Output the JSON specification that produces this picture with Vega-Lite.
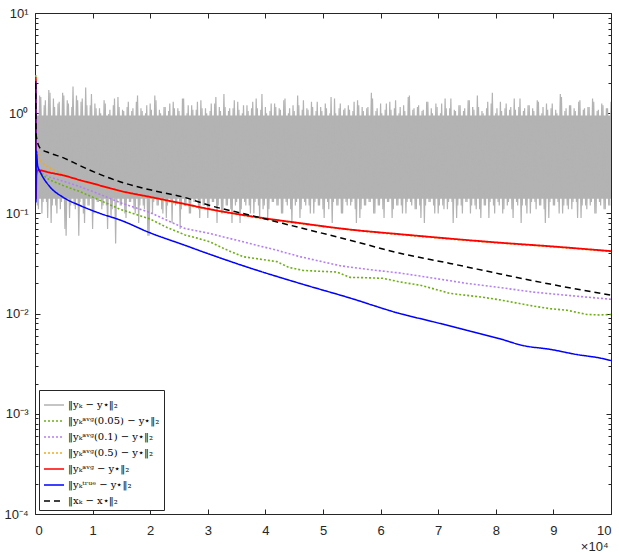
{
  "$schema": "https://vega.github.io/schema/vega-lite/v6.json",
  "width": 576,
  "height": 501,
  "autosize": "none",
  "padding": {"left": 35, "top": 13, "right": 8, "bottom": 39},
  "background": "white",
  "config": {
    "view": {"stroke": null},
    "axis": {"grid": false, "labelFont": "Liberation Sans", "labelFontSize": 13, "labelColor": "#262626", "domainColor": "#262626", "tickColor": "#262626", "domainWidth": 1, "tickWidth": 1, "titleFont": "Liberation Sans", "titleFontWeight": "normal", "titleColor": "#262626", "titleFontSize": 13},
    "legend": {"orient": "bottom-left", "offset": 4, "strokeColor": "#262626", "fillColor": "white", "padding": 4, "symbolType": "stroke", "symbolSize": 400, "symbolStrokeWidth": 1.6, "labelFont": "DejaVu Serif", "labelFontSize": 10, "labelColor": "#000000", "rowPadding": -4, "labelOffset": 3, "cornerRadius": 0}
  },
  "datasets": {
    "band": [{"x": 0, "lo": 0.14, "hi": 0.95}, {"x": 100000, "lo": 0.14, "hi": 0.95}],
    "noise": [
      {"x":0,"y":1.3},{"x":400,"y":0.12},{"x":800,"y":1.5},{"x":1200,"y":0.1},{"x":1600,"y":1.2},{"x":2000,"y":0.13},{"x":2400,"y":1.7},{"x":2800,"y":0.08},{"x":3200,"y":1.4},{"x":3600,"y":0.12},
      {"x":4000,"y":1.25},{"x":4400,"y":0.11},{"x":4800,"y":1.6},{"x":5200,"y":0.07},{"x":5600,"y":1.35},{"x":6000,"y":0.09},{"x":6400,"y":1.15},{"x":6800,"y":0.12},{"x":7200,"y":1.5},{"x":7600,"y":0.06},
      {"x":8000,"y":1.3},{"x":8400,"y":0.1},{"x":8800,"y":1.8},{"x":9200,"y":0.12},{"x":9600,"y":1.2},{"x":10000,"y":0.07},{"x":10400,"y":1.25},{"x":10800,"y":0.13},{"x":11200,"y":1.12},{"x":11600,"y":0.11},
      {"x":12000,"y":1.35},{"x":12400,"y":0.12},{"x":12800,"y":0.98},{"x":13200,"y":0.09},{"x":13600,"y":1.2},{"x":14000,"y":0.05},{"x":14400,"y":1.45},{"x":14800,"y":0.12},{"x":15200,"y":1.08},{"x":15600,"y":0.1},
      {"x":16000,"y":1.15},{"x":16400,"y":0.13},{"x":16800,"y":1.05},{"x":17200,"y":0.11},{"x":17600,"y":1.3},{"x":18000,"y":0.08},{"x":18400,"y":1.12},{"x":18800,"y":0.12},{"x":19200,"y":1.0},{"x":19600,"y":0.06},
      {"x":20000,"y":1.25},{"x":20400,"y":0.1},{"x":20800,"y":1.5},{"x":21200,"y":0.12},{"x":21600,"y":1.08},{"x":22000,"y":0.11},{"x":22400,"y":1.15},{"x":22800,"y":0.09},{"x":23200,"y":1.05},{"x":23600,"y":0.13},
      {"x":24000,"y":1.3},{"x":24400,"y":0.12},{"x":24800,"y":1.12},{"x":25200,"y":0.07},{"x":25600,"y":1.4},{"x":26000,"y":0.12},{"x":26400,"y":1.0},{"x":26800,"y":0.1},{"x":27200,"y":1.2},{"x":27600,"y":0.13},
      {"x":28000,"y":1.08},{"x":28400,"y":0.11},{"x":28800,"y":1.35},{"x":29200,"y":0.12},{"x":29600,"y":1.12},{"x":30000,"y":0.09},{"x":30400,"y":1.05},{"x":30800,"y":0.13},{"x":31200,"y":1.25},{"x":31600,"y":0.08},
      {"x":32000,"y":1.15},{"x":32400,"y":0.1},{"x":32800,"y":1.55},{"x":33200,"y":0.12},{"x":33600,"y":1.05},{"x":34000,"y":0.11},{"x":34400,"y":1.12},{"x":34800,"y":0.12},{"x":35200,"y":1.3},{"x":35600,"y":0.08},
      {"x":36000,"y":1.0},{"x":36400,"y":0.13},{"x":36800,"y":1.2},{"x":37200,"y":0.12},{"x":37600,"y":1.12},{"x":38000,"y":0.1},{"x":38400,"y":1.4},{"x":38800,"y":0.12},{"x":39200,"y":1.08},{"x":39600,"y":0.11},
      {"x":40000,"y":1.15},{"x":40400,"y":0.09},{"x":40800,"y":1.05},{"x":41200,"y":0.13},{"x":41600,"y":1.25},{"x":42000,"y":0.12},{"x":42400,"y":1.12},{"x":42800,"y":0.1},{"x":43200,"y":1.35},{"x":43600,"y":0.13},
      {"x":44000,"y":1.0},{"x":44400,"y":0.11},{"x":44800,"y":1.2},{"x":45200,"y":0.12},{"x":45600,"y":1.5},{"x":46000,"y":0.09},{"x":46400,"y":1.08},{"x":46800,"y":0.13},{"x":47200,"y":1.12},{"x":47600,"y":0.12},
      {"x":48000,"y":1.3},{"x":48400,"y":0.1},{"x":48800,"y":1.05},{"x":49200,"y":0.12},{"x":49600,"y":1.15},{"x":50000,"y":0.11},{"x":50400,"y":1.25},{"x":50800,"y":0.13},{"x":51200,"y":1.0},{"x":51600,"y":0.08},
      {"x":52000,"y":1.4},{"x":52400,"y":0.12},{"x":52800,"y":1.12},{"x":53200,"y":0.1},{"x":53600,"y":1.08},{"x":54000,"y":0.13},{"x":54400,"y":1.2},{"x":54800,"y":0.12},{"x":55200,"y":1.05},{"x":55600,"y":0.11},
      {"x":56000,"y":1.35},{"x":56400,"y":0.09},{"x":56800,"y":1.15},{"x":57200,"y":0.12},{"x":57600,"y":1.12},{"x":58000,"y":0.13},{"x":58400,"y":1.6},{"x":58800,"y":0.1},{"x":59200,"y":1.05},{"x":59600,"y":0.12},
      {"x":60000,"y":1.25},{"x":60400,"y":0.11},{"x":60800,"y":1.08},{"x":61200,"y":0.13},{"x":61600,"y":1.3},{"x":62000,"y":0.09},{"x":62400,"y":1.12},{"x":62800,"y":0.12},{"x":63200,"y":1.0},{"x":63600,"y":0.12},
      {"x":64000,"y":1.2},{"x":64400,"y":0.1},{"x":64800,"y":1.45},{"x":65200,"y":0.13},{"x":65600,"y":1.08},{"x":66000,"y":0.11},{"x":66400,"y":1.15},{"x":66800,"y":0.12},{"x":67200,"y":1.05},{"x":67600,"y":0.08},
      {"x":68000,"y":1.3},{"x":68400,"y":0.13},{"x":68800,"y":1.12},{"x":69200,"y":0.12},{"x":69600,"y":1.25},{"x":70000,"y":0.1},{"x":70400,"y":1.0},{"x":70800,"y":0.12},{"x":71200,"y":1.4},{"x":71600,"y":0.11},
      {"x":72000,"y":1.12},{"x":72400,"y":0.13},{"x":72800,"y":1.08},{"x":73200,"y":0.09},{"x":73600,"y":1.2},{"x":74000,"y":0.12},{"x":74400,"y":1.05},{"x":74800,"y":0.13},{"x":75200,"y":1.35},{"x":75600,"y":0.1},
      {"x":76000,"y":1.15},{"x":76400,"y":0.12},{"x":76800,"y":1.5},{"x":77200,"y":0.11},{"x":77600,"y":1.05},{"x":78000,"y":0.12},{"x":78400,"y":1.12},{"x":78800,"y":0.09},{"x":79200,"y":1.25},{"x":79600,"y":0.12},
      {"x":80000,"y":1.0},{"x":80400,"y":0.13},{"x":80800,"y":1.3},{"x":81200,"y":0.1},{"x":81600,"y":1.12},{"x":82000,"y":0.12},{"x":82400,"y":1.08},{"x":82800,"y":0.11},{"x":83200,"y":1.4},{"x":83600,"y":0.13},
      {"x":84000,"y":1.15},{"x":84400,"y":0.08},{"x":84800,"y":1.05},{"x":85200,"y":0.12},{"x":85600,"y":1.2},{"x":86000,"y":0.1},{"x":86400,"y":1.12},{"x":86800,"y":0.13},{"x":87200,"y":1.35},{"x":87600,"y":0.12},
      {"x":88000,"y":1.0},{"x":88400,"y":0.11},{"x":88800,"y":1.25},{"x":89200,"y":0.09},{"x":89600,"y":1.12},{"x":90000,"y":0.12},{"x":90400,"y":1.08},{"x":90800,"y":0.13},{"x":91200,"y":1.55},{"x":91600,"y":0.1},
      {"x":92000,"y":1.05},{"x":92400,"y":0.12},{"x":92800,"y":1.2},{"x":93200,"y":0.11},{"x":93600,"y":1.12},{"x":94000,"y":0.13},{"x":94400,"y":1.3},{"x":94800,"y":0.09},{"x":95200,"y":1.08},{"x":95600,"y":0.12},
      {"x":96000,"y":1.15},{"x":96400,"y":0.12},{"x":96800,"y":1.4},{"x":97200,"y":0.1},{"x":97600,"y":1.05},{"x":98000,"y":0.13},{"x":98400,"y":1.25},{"x":98800,"y":0.11},{"x":99200,"y":1.12},{"x":99600,"y":0.12},
      {"x":100000,"y":1.3}
    ],
    "noise2": [
      {"x":200,"y":1.2},{"x":600,"y":0.11},{"x":1000,"y":1.45},{"x":1400,"y":0.13},{"x":1800,"y":1.35},{"x":2200,"y":0.09},{"x":2600,"y":1.6},{"x":3000,"y":0.12},{"x":3400,"y":1.15},{"x":3800,"y":0.1},{"x":4200,"y":1.3},{"x":4600,"y":0.13},{"x":5000,"y":1.5},{"x":5400,"y":0.06},{"x":5800,"y":1.25},{"x":6200,"y":0.12},{"x":6600,"y":1.85},{"x":7000,"y":0.11},{"x":7400,"y":1.35},{"x":7800,"y":0.13},
      {"x":8200,"y":1.4},{"x":8600,"y":0.08},{"x":9000,"y":1.2},{"x":9400,"y":0.12},{"x":9800,"y":1.55},{"x":10200,"y":0.1},{"x":10600,"y":1.12},{"x":11000,"y":0.13},{"x":11400,"y":1.0},{"x":11800,"y":0.12},{"x":12200,"y":1.25},{"x":12600,"y":0.07},{"x":13000,"y":1.08},{"x":13400,"y":0.11},{"x":13800,"y":1.4},{"x":14200,"y":0.13},{"x":14600,"y":1.15},{"x":15000,"y":0.12},{"x":15400,"y":1.05},{"x":15800,"y":0.09},
      {"x":16200,"y":1.3},{"x":16600,"y":0.13},{"x":17000,"y":1.12},{"x":17400,"y":0.1},{"x":17800,"y":1.5},{"x":18200,"y":0.12},{"x":18600,"y":1.05},{"x":19000,"y":0.11},{"x":19400,"y":1.2},{"x":19800,"y":0.06},{"x":20200,"y":1.08},{"x":20600,"y":0.13},{"x":21000,"y":1.35},{"x":21400,"y":0.12},{"x":21800,"y":1.0},{"x":22200,"y":0.1},{"x":22600,"y":1.15},{"x":23000,"y":0.12},{"x":23400,"y":1.25},{"x":23800,"y":0.08},
      {"x":24200,"y":1.12},{"x":24600,"y":0.13},{"x":25000,"y":1.05},{"x":25400,"y":0.11},{"x":25800,"y":1.4},{"x":26200,"y":0.12},{"x":26600,"y":1.2},{"x":27000,"y":0.1},{"x":27400,"y":1.08},{"x":27800,"y":0.13},{"x":28200,"y":1.3},{"x":28600,"y":0.09},{"x":29000,"y":1.12},{"x":29400,"y":0.12},{"x":29800,"y":1.0},{"x":30200,"y":0.11},{"x":30600,"y":1.25},{"x":31000,"y":0.13},{"x":31400,"y":1.45},{"x":31800,"y":0.12},
      {"x":32200,"y":1.05},{"x":32600,"y":0.1},{"x":33000,"y":1.15},{"x":33400,"y":0.12},{"x":33800,"y":1.12},{"x":34200,"y":0.08},{"x":34600,"y":1.35},{"x":35000,"y":0.13},{"x":35400,"y":1.08},{"x":35800,"y":0.11},{"x":36200,"y":1.2},{"x":36600,"y":0.12},{"x":37000,"y":1.05},{"x":37400,"y":0.1},{"x":37800,"y":1.3},{"x":38200,"y":0.13},{"x":38600,"y":1.12},{"x":39000,"y":0.09},{"x":39400,"y":1.55},{"x":39800,"y":0.12},
      {"x":40200,"y":1.0},{"x":40600,"y":0.11},{"x":41000,"y":1.25},{"x":41400,"y":0.13},{"x":41800,"y":1.15},{"x":42200,"y":0.12},{"x":42600,"y":1.08},{"x":43000,"y":0.1},{"x":43400,"y":1.4},{"x":43800,"y":0.12},{"x":44200,"y":1.12},{"x":44600,"y":0.08},{"x":45000,"y":1.05},{"x":45400,"y":0.13},{"x":45800,"y":1.2},{"x":46200,"y":0.11},{"x":46600,"y":1.35},{"x":47000,"y":0.12},{"x":47400,"y":1.08},{"x":47800,"y":0.1},
      {"x":48200,"y":1.15},{"x":48600,"y":0.13},{"x":49000,"y":1.3},{"x":49400,"y":0.12},{"x":49800,"y":1.05},{"x":50200,"y":0.09},{"x":50600,"y":1.12},{"x":51000,"y":0.11},{"x":51400,"y":1.45},{"x":51800,"y":0.13},{"x":52200,"y":1.0},{"x":52600,"y":0.12},{"x":53000,"y":1.25},{"x":53400,"y":0.1},{"x":53800,"y":1.12},{"x":54200,"y":0.12},{"x":54600,"y":1.08},{"x":55000,"y":0.13},{"x":55400,"y":1.3},{"x":55800,"y":0.08},
      {"x":56200,"y":1.2},{"x":56600,"y":0.11},{"x":57000,"y":1.05},{"x":57400,"y":0.12},{"x":57800,"y":1.15},{"x":58200,"y":0.13},{"x":58600,"y":1.4},{"x":59000,"y":0.1},{"x":59400,"y":1.12},{"x":59800,"y":0.12},{"x":60200,"y":1.0},{"x":60600,"y":0.09},{"x":61000,"y":1.25},{"x":61400,"y":0.13},{"x":61800,"y":1.08},{"x":62200,"y":0.11},{"x":62600,"y":1.35},{"x":63000,"y":0.12},{"x":63400,"y":1.15},{"x":63800,"y":0.1},
      {"x":64200,"y":1.05},{"x":64600,"y":0.13},{"x":65000,"y":1.5},{"x":65400,"y":0.12},{"x":65800,"y":1.12},{"x":66200,"y":0.11},{"x":66600,"y":1.2},{"x":67000,"y":0.09},{"x":67400,"y":1.08},{"x":67800,"y":0.12},{"x":68200,"y":1.3},{"x":68600,"y":0.13},{"x":69000,"y":1.0},{"x":69400,"y":0.1},{"x":69800,"y":1.15},{"x":70200,"y":0.12},{"x":70600,"y":1.25},{"x":71000,"y":0.11},{"x":71400,"y":1.12},{"x":71800,"y":0.13},
      {"x":72200,"y":1.4},{"x":72600,"y":0.08},{"x":73000,"y":1.05},{"x":73400,"y":0.12},{"x":73800,"y":1.2},{"x":74200,"y":0.1},{"x":74600,"y":1.12},{"x":75000,"y":0.13},{"x":75400,"y":1.35},{"x":75800,"y":0.12},{"x":76200,"y":1.08},{"x":76600,"y":0.11},{"x":77000,"y":1.15},{"x":77400,"y":0.09},{"x":77800,"y":1.0},{"x":78200,"y":0.12},{"x":78600,"y":1.3},{"x":79000,"y":0.13},{"x":79400,"y":1.6},{"x":79800,"y":0.1},
      {"x":80200,"y":1.12},{"x":80600,"y":0.12},{"x":81000,"y":1.05},{"x":81400,"y":0.11},{"x":81800,"y":1.25},{"x":82200,"y":0.13},{"x":82600,"y":1.15},{"x":83000,"y":0.09},{"x":83400,"y":1.08},{"x":83800,"y":0.12},{"x":84200,"y":1.4},{"x":84600,"y":0.12},{"x":85000,"y":1.12},{"x":85400,"y":0.1},{"x":85800,"y":1.2},{"x":86200,"y":0.13},{"x":86600,"y":1.05},{"x":87000,"y":0.11},{"x":87400,"y":1.3},{"x":87800,"y":0.12},
      {"x":88200,"y":1.15},{"x":88600,"y":0.08},{"x":89000,"y":1.08},{"x":89400,"y":0.13},{"x":89800,"y":1.25},{"x":90200,"y":0.12},{"x":90600,"y":1.0},{"x":91000,"y":0.1},{"x":91400,"y":1.45},{"x":91800,"y":0.12},{"x":92200,"y":1.12},{"x":92600,"y":0.11},{"x":93000,"y":1.2},{"x":93400,"y":0.13},{"x":93800,"y":1.05},{"x":94200,"y":0.09},{"x":94600,"y":1.35},{"x":95000,"y":0.12},{"x":95400,"y":1.12},{"x":95800,"y":0.11},
      {"x":96200,"y":1.15},{"x":96600,"y":0.13},{"x":97000,"y":1.3},{"x":97400,"y":0.1},{"x":97800,"y":1.08},{"x":98200,"y":0.12},{"x":98600,"y":1.2},{"x":99000,"y":0.11},{"x":99400,"y":1.12},{"x":99800,"y":0.12}
    ],
    "green": [
      {"x":120,"y":2.4},{"x":200,"y":0.45},{"x":400,"y":0.3},{"x":870,"y":0.25},{"x":2600,"y":0.215},{"x":4860,"y":0.19},{"x":7800,"y":0.165},{"x":11280,"y":0.135},{"x":14760,"y":0.11},{"x":17000,"y":0.1},
      {"x":19970,"y":0.088},{"x":23000,"y":0.072},{"x":26040,"y":0.061},{"x":28000,"y":0.057},{"x":30380,"y":0.052},{"x":33000,"y":0.044},{"x":36100,"y":0.037},{"x":39000,"y":0.035},{"x":42000,"y":0.033},{"x":44000,"y":0.029},
      {"x":46500,"y":0.027},{"x":49000,"y":0.0265},{"x":52400,"y":0.026},{"x":54700,"y":0.023},{"x":57500,"y":0.0228},{"x":60400,"y":0.0225},{"x":63370,"y":0.0207},{"x":66840,"y":0.0192},{"x":69500,"y":0.0175},{"x":72050,"y":0.0159},
      {"x":75000,"y":0.0152},{"x":78000,"y":0.0145},{"x":80730,"y":0.0137},{"x":83500,"y":0.0128},{"x":86460,"y":0.0119},{"x":89410,"y":0.0112},{"x":92360,"y":0.0108},{"x":95830,"y":0.0098},{"x":98000,"y":0.0097},{"x":100000,"y":0.0098}
    ],
    "purple": [
      {"x":120,"y":2.2},{"x":200,"y":0.45},{"x":400,"y":0.3},{"x":870,"y":0.26},{"x":2600,"y":0.23},{"x":4860,"y":0.21},{"x":7800,"y":0.185},{"x":11280,"y":0.155},{"x":14760,"y":0.128},{"x":19970,"y":0.102},
      {"x":26040,"y":0.0707},{"x":30380,"y":0.063},{"x":37330,"y":0.05},{"x":41900,"y":0.043},{"x":46000,"y":0.037},{"x":53000,"y":0.03},{"x":58000,"y":0.0275},{"x":63370,"y":0.0254},{"x":66840,"y":0.0237},{"x":75000,"y":0.02},
      {"x":80730,"y":0.0182},{"x":86460,"y":0.0164},{"x":93000,"y":0.0151},{"x":100000,"y":0.0139}
    ],
    "orange": [
      {"x":120,"y":2.3},{"x":200,"y":0.6},{"x":400,"y":0.45},{"x":870,"y":0.34},{"x":2000,"y":0.3},{"x":3500,"y":0.27},{"x":4860,"y":0.245},{"x":7800,"y":0.213},{"x":11280,"y":0.188},{"x":14760,"y":0.166},
      {"x":19970,"y":0.144},{"x":26040,"y":0.122},{"x":30380,"y":0.109},{"x":37330,"y":0.093},{"x":46000,"y":0.079},{"x":54690,"y":0.0685},{"x":63370,"y":0.0613},{"x":72050,"y":0.0555},{"x":80730,"y":0.0505},{"x":89410,"y":0.0465},{"x":100000,"y":0.0416}
    ],
    "red": [
      {"x":120,"y":2.3},{"x":160,"y":0.14},{"x":250,"y":0.24},{"x":450,"y":0.27},{"x":2600,"y":0.255},{"x":4860,"y":0.24},{"x":7800,"y":0.215},{"x":11280,"y":0.19},{"x":14760,"y":0.168},{"x":19970,"y":0.146},
      {"x":26040,"y":0.124},{"x":30380,"y":0.11},{"x":37330,"y":0.094},{"x":46000,"y":0.08},{"x":54690,"y":0.069},{"x":63370,"y":0.062},{"x":72050,"y":0.056},{"x":80730,"y":0.051},{"x":89410,"y":0.047},{"x":100000,"y":0.042}
    ],
    "blue": [
      {"x":120,"y":2.1},{"x":160,"y":0.13},{"x":230,"y":0.42},{"x":450,"y":0.3},{"x":900,"y":0.26},{"x":2600,"y":0.184},{"x":4860,"y":0.145},{"x":7800,"y":0.12},{"x":11280,"y":0.1},{"x":14760,"y":0.086},
      {"x":19970,"y":0.064},{"x":26040,"y":0.048},{"x":30380,"y":0.039},{"x":37330,"y":0.0285},{"x":46000,"y":0.02},{"x":54690,"y":0.0143},{"x":63370,"y":0.01},{"x":69100,"y":0.0083},{"x":75000,"y":0.0068},{"x":80730,"y":0.0056},
      {"x":84720,"y":0.0048},{"x":89410,"y":0.0044},{"x":94100,"y":0.0039},{"x":98090,"y":0.0036},{"x":100000,"y":0.0034}
    ],
    "black": [
      {"x":120,"y":2.0},{"x":200,"y":0.6},{"x":870,"y":0.45},{"x":2600,"y":0.4},{"x":4860,"y":0.36},{"x":7800,"y":0.3},{"x":11280,"y":0.245},{"x":14760,"y":0.207},{"x":19970,"y":0.172},{"x":26040,"y":0.144},
      {"x":30380,"y":0.12},{"x":37330,"y":0.096},{"x":46000,"y":0.072},{"x":54690,"y":0.054},{"x":63370,"y":0.04},{"x":72050,"y":0.0317},{"x":80730,"y":0.0249},{"x":89410,"y":0.0197},{"x":100000,"y":0.0153}
    ]
  },
  "resolve": {"axis": {"x": "independent", "y": "independent"}},
  "encoding": {
    "color": {
      "scale": {
        "domain": ["‖yₖ − y⋆‖₂", "‖yₖᵃᵛᵍ(0.05) − y⋆‖₂", "‖yₖᵃᵛᵍ(0.1) − y⋆‖₂", "‖yₖᵃᵛᵍ(0.5) − y⋆‖₂", "‖yₖᵃᵛᵍ − y⋆‖₂", "‖yₖᵗʳᵘᵉ − y⋆‖₂", "‖xₖ − x⋆‖₂"],
        "range": ["#b3b3b3", "#6eaf14", "#b47ef5", "#f5a91a", "#ff0000", "#0000ff", "#000000"]
      },
      "legend": {"title": null}
    }
  },
  "layer": [
    {
      "data": {"name": "band"},
      "mark": {"type": "area", "color": "#b3b3b3", "opacity": 1},
      "encoding": {
        "x": {"field": "x", "type": "quantitative", "scale": {"domain": [0, 100000], "nice": false, "zero": false}, "axis": {"orient": "top", "labels": false, "title": null, "values": [0,10000,20000,30000,40000,50000,60000,70000,80000,90000,100000], "tickSize": -5}},
        "y": {"field": "lo", "type": "quantitative", "scale": {"type": "log", "domain": [0.0001, 10], "nice": false}, "axis": {"orient": "right", "labels": false, "title": null, "values": [0.0001,0.0002,0.0003,0.0004,0.0005,0.0006,0.0007,0.0008,0.0009,0.001,0.002,0.003,0.004,0.005,0.006,0.007,0.008,0.009,0.01,0.02,0.03,0.04,0.05,0.06,0.07,0.08,0.09,0.1,0.2,0.3,0.4,0.5,0.6,0.7,0.8,0.9,1,2,3,4,5,6,7,8,9,10], "tickSize": {"condition": {"test": "indexof([0.0001,0.001,0.01,0.1,1,10], datum.value) >= 0", "value": -5}, "value": -3}}},
        "y2": {"field": "hi"}
      }
    },
    {
      "data": {"name": "noise"},
      "mark": {"type": "line", "strokeWidth": 1.2, "clip": true},
      "encoding": {
        "x": {"field": "x", "type": "quantitative", "axis": {"orient": "bottom", "values": [0,10000,20000,30000,40000,50000,60000,70000,80000,90000,100000], "labelExpr": "datum.value / 10000", "tickSize": -5, "labelPadding": 15, "title": "×10⁴", "titleAnchor": "end", "titleAlign": "right", "titleX": 573, "titleY": 36, "titleBaseline": "alphabetic"}},
        "y": {"field": "y", "type": "quantitative", "axis": {"orient": "left", "title": null, "labelOverlap": false, "values": [0.0001,0.0002,0.0003,0.0004,0.0005,0.0006,0.0007,0.0008,0.0009,0.001,0.002,0.003,0.004,0.005,0.006,0.007,0.008,0.009,0.01,0.02,0.03,0.04,0.05,0.06,0.07,0.08,0.09,0.1,0.2,0.3,0.4,0.5,0.6,0.7,0.8,0.9,1,2,3,4,5,6,7,8,9,10], "labelExpr": "datum.value == 0.0001 ? '10⁻⁴' : datum.value == 0.001 ? '10⁻³' : datum.value == 0.01 ? '10⁻²' : datum.value == 0.1 ? '10⁻¹' : datum.value == 1 ? '10⁰' : datum.value == 10 ? '10¹' : ''", "tickSize": {"condition": {"test": "indexof([0.0001,0.001,0.01,0.1,1,10], datum.value) >= 0", "value": -5}, "value": -3}, "labelPadding": 12}},
        "color": {"datum": "‖yₖ − y⋆‖₂"},
        "strokeDash": {"datum": "‖yₖ − y⋆‖₂"}
      }
    },
    {
      "data": {"name": "noise2"},
      "mark": {"type": "line", "strokeWidth": 1.2, "clip": true},
      "encoding": {"x": {"field": "x", "type": "quantitative", "axis": null}, "y": {"field": "y", "type": "quantitative", "axis": null}, "color": {"datum": "‖yₖ − y⋆‖₂"}, "strokeDash": {"datum": "‖yₖ − y⋆‖₂"}}
    },
    {
      "data": {"name": "green"},
      "mark": {"type": "line", "strokeWidth": 1.6, "clip": true},
      "encoding": {"x": {"field": "x", "type": "quantitative", "axis": null}, "y": {"field": "y", "type": "quantitative", "axis": null}, "color": {"datum": "‖yₖᵃᵛᵍ(0.05) − y⋆‖₂"}, "strokeDash": {"datum": "‖yₖᵃᵛᵍ(0.05) − y⋆‖₂"}}
    },
    {
      "data": {"name": "purple"},
      "mark": {"type": "line", "strokeWidth": 1.6, "clip": true},
      "encoding": {"x": {"field": "x", "type": "quantitative", "axis": null}, "y": {"field": "y", "type": "quantitative", "axis": null}, "color": {"datum": "‖yₖᵃᵛᵍ(0.1) − y⋆‖₂"}, "strokeDash": {"datum": "‖yₖᵃᵛᵍ(0.1) − y⋆‖₂"}}
    },
    {
      "data": {"name": "orange"},
      "mark": {"type": "line", "strokeWidth": 1.6, "clip": true, "interpolate": "monotone"},
      "encoding": {"x": {"field": "x", "type": "quantitative", "axis": null}, "y": {"field": "y", "type": "quantitative", "axis": null}, "color": {"datum": "‖yₖᵃᵛᵍ(0.5) − y⋆‖₂"}, "strokeDash": {"datum": "‖yₖᵃᵛᵍ(0.5) − y⋆‖₂"}}
    },
    {
      "data": {"name": "red"},
      "mark": {"type": "line", "strokeWidth": 1.8, "clip": true, "interpolate": "monotone"},
      "encoding": {"x": {"field": "x", "type": "quantitative", "axis": null}, "y": {"field": "y", "type": "quantitative", "axis": null}, "color": {"datum": "‖yₖᵃᵛᵍ − y⋆‖₂"}, "strokeDash": {"datum": "‖yₖᵃᵛᵍ − y⋆‖₂"}}
    },
    {
      "data": {"name": "blue"},
      "mark": {"type": "line", "strokeWidth": 1.5, "clip": true, "interpolate": "monotone"},
      "encoding": {"x": {"field": "x", "type": "quantitative", "axis": null}, "y": {"field": "y", "type": "quantitative", "axis": null}, "color": {"datum": "‖yₖᵗʳᵘᵉ − y⋆‖₂"}, "strokeDash": {"datum": "‖yₖᵗʳᵘᵉ − y⋆‖₂"}}
    },
    {
      "data": {"name": "black"},
      "mark": {"type": "line", "strokeWidth": 1.5, "clip": true, "interpolate": "monotone"},
      "encoding": {"x": {"field": "x", "type": "quantitative", "axis": null}, "y": {"field": "y", "type": "quantitative", "axis": null}, "color": {"datum": "‖xₖ − x⋆‖₂"}, "strokeDash": {"datum": "‖xₖ − x⋆‖₂", "scale": {"domain": ["‖yₖ − y⋆‖₂", "‖yₖᵃᵛᵍ(0.05) − y⋆‖₂", "‖yₖᵃᵛᵍ(0.1) − y⋆‖₂", "‖yₖᵃᵛᵍ(0.5) − y⋆‖₂", "‖yₖᵃᵛᵍ − y⋆‖₂", "‖yₖᵗʳᵘᵉ − y⋆‖₂", "‖xₖ − x⋆‖₂"], "range": [[1,0],[2,2],[2,2],[2,2],[1,0],[1,0],[6,4]]}}}
    }
  ]
}
